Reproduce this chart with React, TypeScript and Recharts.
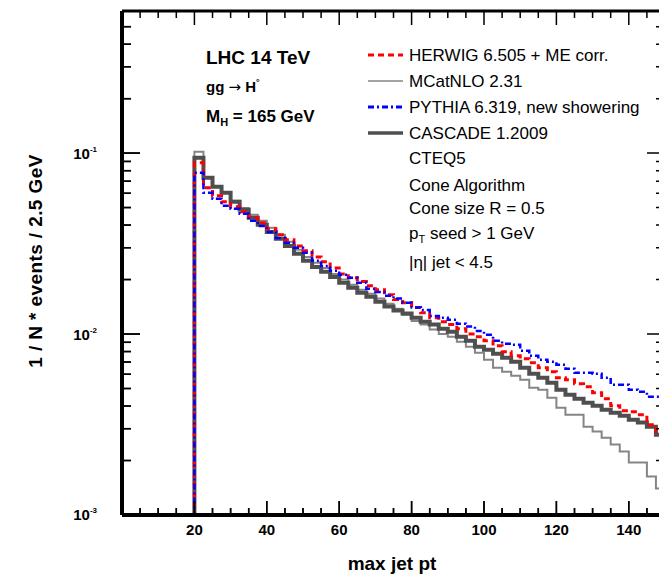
import React from 'react';
import { ComposedChart, Line, XAxis, YAxis } from 'recharts';

const FONT = '"Liberation Sans", Arial, sans-serif';

// histogram floor (empty bins sit on the axis)
const FLOOR = 1e-3;
const Y_TOP = 0.61;
const BIN_WIDTH = 2.5;
const FIRST_FILLED = 20;
const X_MAX = 150;

// chart box; the frame runs past the right edge of the page like the original
const CHART_W = 700;
const CHART_H = 574;
const MARGIN = { top: 11, right: 35, bottom: 59, left: 122 };
const PLOT_W = CHART_W - MARGIN.left - MARGIN.right;
const PLOT_H = CHART_H - MARGIN.top - MARGIN.bottom;
const PLOT_BOTTOM = MARGIN.top + PLOT_H;
// axes get a tiny size so they draw but take no room
const THIN = 0.01;

// 1/N dN per 2.5 GeV bin, bins from 20 to 147.5 GeV
const herwig = [
  0.0884, 0.0643, 0.0581, 0.0538, 0.0505, 0.0474, 0.0439, 0.0412, 0.0382, 0.0354,
  0.0332, 0.0307, 0.0289, 0.0267, 0.0251, 0.0232, 0.0215, 0.0205, 0.0195, 0.0185,
  0.0176, 0.0165, 0.0155, 0.0149, 0.014, 0.0131, 0.0123, 0.0117, 0.0113, 0.0107,
  0.01, 0.00966, 0.00918, 0.00862, 0.00798, 0.00759, 0.0073, 0.00694, 0.00651, 0.00619,
  0.00573, 0.00559, 0.00531, 0.00511, 0.00474, 0.00439, 0.00402, 0.00377, 0.00372, 0.00358,
  0.00315, 0.00289,
];
const mcatnlo = [
  0.1017, 0.073, 0.0651, 0.0604, 0.0545, 0.0498, 0.0456, 0.0423, 0.0387, 0.0354,
  0.0324, 0.0292, 0.0267, 0.0248, 0.0232, 0.0215, 0.02, 0.0187, 0.0176, 0.0167,
  0.0157, 0.0147, 0.0138, 0.0128, 0.0118, 0.0113, 0.0106, 0.01, 0.00966, 0.00907,
  0.00851, 0.00788, 0.00721, 0.00651, 0.00619, 0.00588, 0.00559, 0.00505, 0.00492, 0.00445,
  0.00392, 0.00358, 0.00358, 0.00307, 0.00289, 0.00267, 0.00245, 0.00224, 0.00195, 0.00195,
  0.00163, 0.0014,
];
const pythia = [
  0.0778, 0.0604, 0.0559, 0.0511, 0.0492, 0.0462, 0.0423, 0.0396, 0.0367, 0.034,
  0.032, 0.03, 0.0281, 0.0254, 0.0238, 0.0224, 0.0213, 0.0205, 0.0192, 0.0178,
  0.0171, 0.0163, 0.0157, 0.0149, 0.014, 0.0136, 0.0126, 0.0123, 0.012, 0.0114,
  0.011, 0.0104, 0.00991, 0.00918, 0.00884, 0.00873, 0.00809, 0.00759, 0.00721, 0.00703,
  0.00677, 0.00643, 0.00611, 0.00611, 0.00603, 0.00573, 0.00525, 0.00525, 0.00492, 0.0048,
  0.0045, 0.0045,
];
const cascade = [
  0.0942, 0.073, 0.0651, 0.0604, 0.0538, 0.0486, 0.0439, 0.0402, 0.0367, 0.0336,
  0.0307, 0.0278, 0.0254, 0.0235, 0.0221, 0.0207, 0.0192, 0.018, 0.0169, 0.0161,
  0.0151, 0.0142, 0.0135, 0.013, 0.0123, 0.0117, 0.0113, 0.0107, 0.0103, 0.00966,
  0.00918, 0.00851, 0.00819, 0.00778, 0.0074, 0.00703, 0.00651, 0.00603, 0.00573, 0.00538,
  0.00492, 0.00462, 0.00439, 0.00417, 0.00402, 0.00382, 0.00367, 0.00354, 0.00336, 0.00324,
  0.00307, 0.00278,
];

const xMajorTicks = [20, 40, 60, 80, 100, 120, 140];
const xMinorTicks = [
  5, 10, 15, 25, 30, 35, 45, 50, 55, 65, 70, 75, 85, 90, 95, 105, 110, 115, 125, 130, 135, 145,
];
const yMajorTicks = [0.001, 0.01, 0.1];
const yMinorTicks = [
  0.002, 0.003, 0.004, 0.005, 0.006, 0.007, 0.008, 0.009,
  0.02, 0.03, 0.04, 0.05, 0.06, 0.07, 0.08, 0.09,
  0.2, 0.3, 0.4, 0.5,
];
const xTicks = [...xMajorTicks, ...xMinorTicks].sort((a, b) => a - b);
const yTicks = [...yMajorTicks, ...yMinorTicks].sort((a, b) => a - b);

const SERIES = [
  { key: 'mcatnlo', name: 'MCatNLO 2.31', color: '#858585', width: 2, dash: undefined },
  { key: 'cascade', name: 'CASCADE 1.2009', color: '#4f4f4f', width: 4, dash: undefined },
  { key: 'herwig', name: 'HERWIG 6.505 + ME corr.', color: '#ff0000', width: 3, dash: '6 4' },
  { key: 'pythia', name: 'PYTHIA 6.319, new showering', color: '#0000ff', width: 2.5, dash: '6 3 2 3' },
];

// build the step table: empty bins below 20 GeV, filled bins after, closing edge at 150
const buildRows = () => {
  const rows: any[] = [];
  const nEmpty = FIRST_FILLED / BIN_WIDTH;
  for (let i = 0; i < nEmpty; i++) {
    rows.push({ pt: i * BIN_WIDTH, herwig: FLOOR, mcatnlo: FLOOR, pythia: FLOOR, cascade: FLOOR });
  }
  herwig.forEach((_, j) => {
    rows.push({
      pt: FIRST_FILLED + j * BIN_WIDTH,
      herwig: herwig[j],
      mcatnlo: mcatnlo[j],
      pythia: pythia[j],
      cascade: cascade[j],
    });
  });
  const last = herwig.length - 1;
  rows.push({
    pt: X_MAX,
    herwig: herwig[last],
    mcatnlo: mcatnlo[last],
    pythia: pythia[last],
    cascade: cascade[last],
  });
  return rows;
};

const data = buildRows();

// tick marks point into the frame
const TICK = '#000';
const TICK_W = 1.5;

// frame scales for the tick marks on the bottom and left edges
const xPx = (v: number) => MARGIN.left + (v / X_MAX) * PLOT_W;
const yPx = (v: number) =>
  MARGIN.top +
  (PLOT_H * (Math.log10(Y_TOP) - Math.log10(v))) / (Math.log10(Y_TOP) - Math.log10(FLOOR));

const XTick = (props: any) => {
  const { x, y, payload } = props;
  const major = xMajorTicks.includes(payload.value);
  const len = major ? 14 : 7;
  const top = y - PLOT_H;
  return (
    <g>
      <path d={`M${x},${y}V${y - len}M${x},${top}V${top + len}`} stroke={TICK} strokeWidth={TICK_W} fill="none" />
      {major && (
        <text x={x} y={y + 20} textAnchor="middle" fontFamily={FONT} fontWeight="bold" fontSize={15} fill="#000">
          {payload.value}
        </text>
      )}
    </g>
  );
};

const YTick = (props: any) => {
  const { x, y, payload } = props;
  const major = yMajorTicks.includes(payload.value);
  const len = major ? 18 : 9;
  const right = x + PLOT_W;
  const exp = Math.round(Math.log10(payload.value));
  return (
    <g>
      <path d={`M${x},${y}H${x + len}M${right},${y}H${right - len}`} stroke={TICK} strokeWidth={TICK_W} fill="none" />
      {major && (
        <text x={x - 25} y={y + 5.5} textAnchor="end" fontFamily={FONT} fontWeight="bold" fontSize={15} fill="#000">
          10
          <tspan dy={-7} fontSize={8}>
            {String(exp)}
          </tspan>
        </text>
      )}
    </g>
  );
};

export default function App() {
  const legendRows = [
    { s: SERIES[2], y: 55 },
    { s: SERIES[0], y: 81 },
    { s: SERIES[3], y: 107 },
    { s: SERIES[1], y: 133 },
  ];

  return (
    <div
      style={{
        position: 'fixed',
        left: 0,
        top: 0,
        width: 659,
        height: 574,
        overflow: 'hidden',
        background: '#fff',
      }}
    >
      <ComposedChart width={CHART_W} height={CHART_H} data={data} margin={MARGIN}>
        <XAxis
          xAxisId="x"
          dataKey="pt"
          type="number"
          domain={[0, X_MAX]}
          allowDataOverflow
          ticks={xTicks}
          interval={0}
          height={THIN}
          tickSize={0}
          tickMargin={0}
          tickLine={false}
          axisLine={{ stroke: '#000', strokeWidth: 4 }}
          tick={<XTick />}
        />
        <XAxis
          xAxisId="xTop"
          orientation="top"
          dataKey="pt"
          type="number"
          domain={[0, X_MAX]}
          allowDataOverflow
          ticks={[X_MAX]}
          height={THIN}
          tickLine={false}
          tick={false}
          axisLine={{ stroke: '#000', strokeWidth: 3 }}
        />
        <YAxis
          yAxisId="y"
          type="number"
          scale="log"
          domain={[FLOOR, Y_TOP]}
          allowDataOverflow
          ticks={yTicks}
          interval={0}
          width={THIN}
          tickSize={0}
          tickMargin={0}
          tickLine={false}
          axisLine={{ stroke: '#000', strokeWidth: 4 }}
          tick={<YTick />}
        />
        <YAxis
          yAxisId="yRight"
          orientation="right"
          type="number"
          scale="log"
          domain={[FLOOR, Y_TOP]}
          allowDataOverflow
          ticks={[Y_TOP]}
          width={THIN}
          tickLine={false}
          tick={false}
          axisLine={{ stroke: '#000', strokeWidth: 3 }}
        />
        {SERIES.map((s) => (
          <Line
            key={s.key}
            xAxisId="x"
            yAxisId="y"
            type="stepAfter"
            dataKey={s.key}
            name={s.name}
            stroke={s.color}
            strokeWidth={s.width}
            strokeDasharray={s.dash}
            strokeLinejoin="miter"
            dot={false}
            activeDot={false}
            isAnimationActive={false}
          />
        ))}
      </ComposedChart>

      {/* labels, annotations, legend and the inward ticks on the bottom/left edges */}
      <svg
        width={659}
        height={574}
        style={{ position: 'absolute', left: 0, top: 0, pointerEvents: 'none' }}
        fontFamily={FONT}
      >
        <g stroke={TICK} strokeWidth={TICK_W}>
          {xTicks.map((v) => {
            const len = xMajorTicks.includes(v) ? 14 : 7;
            const x = xPx(v);
            return <line key={`bx${v}`} x1={x} x2={x} y1={PLOT_BOTTOM - 2} y2={PLOT_BOTTOM - len} />;
          })}
          {yTicks.map((v) => {
            const len = yMajorTicks.includes(v) ? 18 : 9;
            const y = yPx(v);
            return <line key={`ly${v}`} x1={MARGIN.left + 2} x2={MARGIN.left + len} y1={y} y2={y} />;
          })}
        </g>

        <text
          transform="translate(42,261) rotate(-90)"
          textAnchor="middle"
          fontWeight="bold"
          fontSize={19}
          letterSpacing={0.4}
        >
          1 / N * events / 2.5 GeV
        </text>
        <text x={392} y={570} textAnchor="middle" fontWeight="bold" fontSize={19}>
          max jet pt
        </text>

        <text x={206} y={63.5} fontWeight="bold" fontSize={19}>
          LHC 14 TeV
        </text>
        <text x={206} y={91.5} fontWeight="bold" fontSize={15}>
          gg{' '}
          <tspan fontFamily='"DejaVu Sans", sans-serif' fontWeight="normal" fontSize={15}>
            →
          </tspan>{' '}
          H
          <tspan dy={-7} fontSize={9}>
            °
          </tspan>
        </text>
        <text x={206} y={121.5} fontWeight="bold" fontSize={17}>
          M
          <tspan dy={4} fontSize={11}>
            H
          </tspan>
          <tspan dy={-4}> = 165 GeV</tspan>
        </text>

        {legendRows.map(({ s, y }) => (
          <g key={s.key}>
            <line
              x1={368}
              x2={403}
              y1={y}
              y2={y}
              stroke={s.color}
              strokeWidth={s.width === 4 ? 3.5 : s.width === 2 ? 1.5 : 3}
              strokeDasharray={s.dash}
            />
            <text x={409} y={y + 6} fontSize={17}>
              {s.name}
            </text>
          </g>
        ))}
        <text x={409} y={164} fontSize={17}>
          CTEQ5
        </text>
        <text x={409} y={190.5} fontSize={17}>
          Cone Algorithm
        </text>
        <text x={409} y={214} fontSize={17}>
          Cone size R = 0.5
        </text>
        <text x={409} y={239} fontSize={17}>
          p
          <tspan dy={4} fontSize={11}>
            T
          </tspan>
          <tspan dy={-4}> seed &gt; 1 GeV</tspan>
        </text>
        <text x={409} y={268} fontSize={17}>
          |η| jet &lt; 4.5
        </text>
      </svg>
    </div>
  );
}
